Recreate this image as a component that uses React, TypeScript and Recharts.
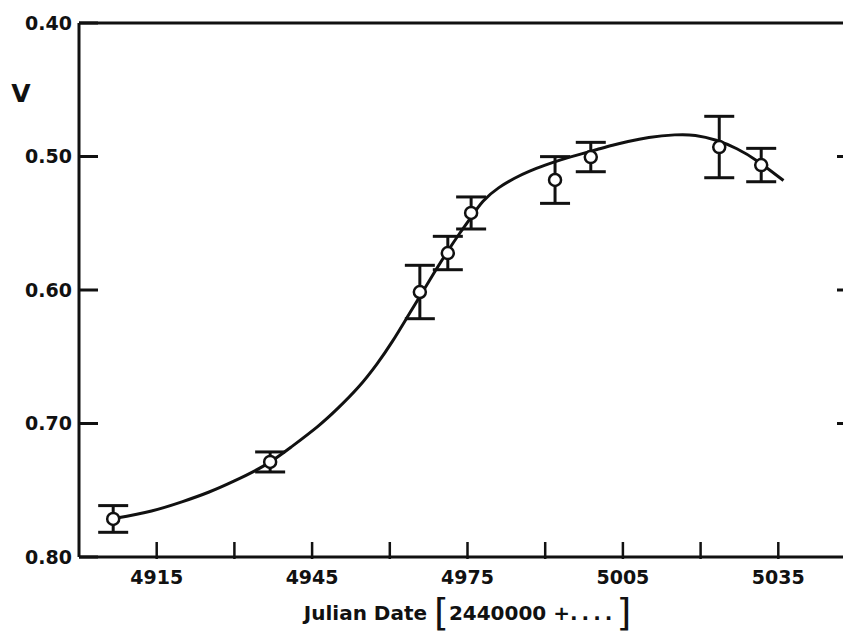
import React from 'react';
import { ComposedChart, Line, Scatter, ErrorBar, XAxis, YAxis } from 'recharts';

// fitted light curve (day offset from 2440000, V mag)
const curveDays = [4907, 4914, 4920, 4925, 4930, 4936, 4941, 4946, 4950, 4954, 4957.5, 4960.5, 4963.5, 4966, 4968.5, 4971, 4973.5, 4975.5, 4978, 4981, 4984, 4987, 4990, 4993, 4997, 5000, 5003, 5006, 5010, 5015, 5019, 5023, 5027, 5031, 5036];
const curveV = [0.771, 0.7655, 0.7585, 0.7515, 0.743, 0.731, 0.7175, 0.7025, 0.6885, 0.6725, 0.6555, 0.6385, 0.6195, 0.6035, 0.5875, 0.572, 0.5575, 0.5465, 0.5335, 0.5235, 0.5165, 0.511, 0.5065, 0.5025, 0.498, 0.4948, 0.4916, 0.4888, 0.4858, 0.4838, 0.4842, 0.4878, 0.4942, 0.5035, 0.518];

// observations with error bars
const obsDays = [4906.6, 4936.9, 4965.8, 4971.2, 4975.7, 4991.9, 4998.8, 5023.6, 5031.7];
const obsV = [0.7715, 0.7288, 0.6015, 0.5723, 0.5423, 0.5176, 0.5004, 0.4929, 0.5064];
const obsErr = [0.010, 0.0075, 0.020, 0.0125, 0.012, 0.0175, 0.011, 0.023, 0.0125];

const xTicks = [4915, 4930, 4945, 4960, 4975, 4990, 5005, 5020, 5035];
const yTicks = [0.4, 0.5, 0.6, 0.7, 0.8];
const rightTicks = [0.5, 0.6, 0.7];

const curve = curveDays.map((d, i) => ({ day: d, v: curveV[i] }));
const points = obsDays.map((d, i) => ({ day: d, v: obsV[i], err: obsErr[i] }));

const INK = '#111';
const FONT = '"DejaVu Sans", sans-serif';
const TICK_LEN = 19;

function LeftTick(props: any) {
  const { x, y, payload } = props;
  return (
    <g>
      <line x1={x + 7} x2={x + 7 + TICK_LEN} y1={y} y2={y} stroke={INK} strokeWidth={3} />
      <text x={x} y={y} dy="0.36em" textAnchor="end" fontFamily={FONT} fontWeight="bold" fontSize={19} fill={INK}>
        {Number(payload.value).toFixed(2)}
      </text>
    </g>
  );
}

function RightTick(props: any) {
  const { x, y } = props;
  return <line x1={x} x2={x - TICK_LEN} y1={y} y2={y} stroke={INK} strokeWidth={3} />;
}

function TopTick(props: any) {
  const { x, y } = props;
  return <line x1={x} x2={x} y1={y} y2={y + TICK_LEN} stroke={INK} strokeWidth={2.5} />;
}

function BottomTick(props: any) {
  const { x, y, payload } = props;
  const showLabel = (payload.value - 4915) % 30 === 0;
  return (
    <g>
      <line x1={x} x2={x} y1={y - 12} y2={y - 12 - 17} stroke={INK} strokeWidth={2.5} />
      {showLabel && (
        <text x={x} y={y} dy="0.71em" textAnchor="middle" fontFamily={FONT} fontWeight="bold" fontSize={19} fill={INK}>
          {payload.value}
        </text>
      )}
    </g>
  );
}

function XTitle(props: any) {
  const { viewBox } = props;
  const cx = viewBox.x + viewBox.width / 2;
  return (
    <text x={cx} y={viewBox.y + 63} textAnchor="middle" fontFamily={FONT} fontWeight="bold" fontSize={20} fill={INK}>
      Julian Date{' '}
      <tspan fontSize={38} fontWeight="normal" dy={5}>[</tspan>
      <tspan dy={-5}>2440000 +</tspan>
      <tspan letterSpacing={4}>....</tspan>
      <tspan fontSize={38} fontWeight="normal" dy={5}>]</tspan>
    </text>
  );
}

function VTitle(props: any) {
  const { viewBox } = props;
  return (
    <text x={viewBox.x + 21} y={viewBox.y + 79} textAnchor="middle" fontFamily={FONT} fontWeight="bold" fontSize={25} fill={INK}>
      V
    </text>
  );
}

function OpenCircle(props: any) {
  const { cx, cy } = props;
  return <circle cx={cx} cy={cy} r={6} fill="#fff" stroke={INK} strokeWidth={2.5} />;
}

export default function App() {
  return (
    <div style={{ position: 'absolute', left: 0, top: 0, width: 843, height: 633, overflow: 'hidden', background: '#fff' }}>
      <ComposedChart width={870} height={633} margin={{ top: 10, right: 10, bottom: 0, left: 0 }}>
        <XAxis
          dataKey="day"
          type="number"
          domain={[4900, 5050]}
          allowDataOverflow
          ticks={xTicks}
          interval={0}
          height={76}
          tickSize={0}
          tickMargin={14}
          tickLine={false}
          axisLine={{ stroke: INK, strokeWidth: 3 }}
          tick={<BottomTick />}
          label={<XTitle />}
        />
        <XAxis
          xAxisId="top"
          orientation="top"
          type="number"
          domain={[4900, 5050]}
          allowDataOverflow
          ticks={xTicks}
          interval={0}
          height={13}
          tickSize={0}
          tickMargin={0}
          tickLine={false}
          axisLine={{ stroke: INK, strokeWidth: 3 }}
          tick={<TopTick />}
        />
        <YAxis
          dataKey="v"
          type="number"
          reversed
          domain={[0.4, 0.8]}
          allowDataOverflow
          ticks={yTicks}
          interval={0}
          width={79}
          tickSize={0}
          tickMargin={7}
          tickLine={false}
          axisLine={{ stroke: INK, strokeWidth: 3 }}
          tick={<LeftTick />}
          label={<VTitle />}
        />
        <YAxis
          yAxisId="right"
          orientation="right"
          type="number"
          reversed
          domain={[0.4, 0.8]}
          allowDataOverflow
          ticks={rightTicks}
          interval={0}
          width={4}
          tickSize={0}
          tickMargin={0}
          tickLine={false}
          axisLine={{ stroke: INK, strokeWidth: 3 }}
          tick={<RightTick />}
        />
        <Line
          data={curve}
          dataKey="v"
          type="natural"
          stroke={INK}
          strokeWidth={3}
          dot={false}
          activeDot={false}
          isAnimationActive={false}
        />
        <Scatter data={points} dataKey="v" shape={<OpenCircle />} isAnimationActive={false}>
          <ErrorBar dataKey="err" direction="y" width={15} stroke={INK} strokeWidth={3} isAnimationActive={false} />
        </Scatter>
      </ComposedChart>
    </div>
  );
}
